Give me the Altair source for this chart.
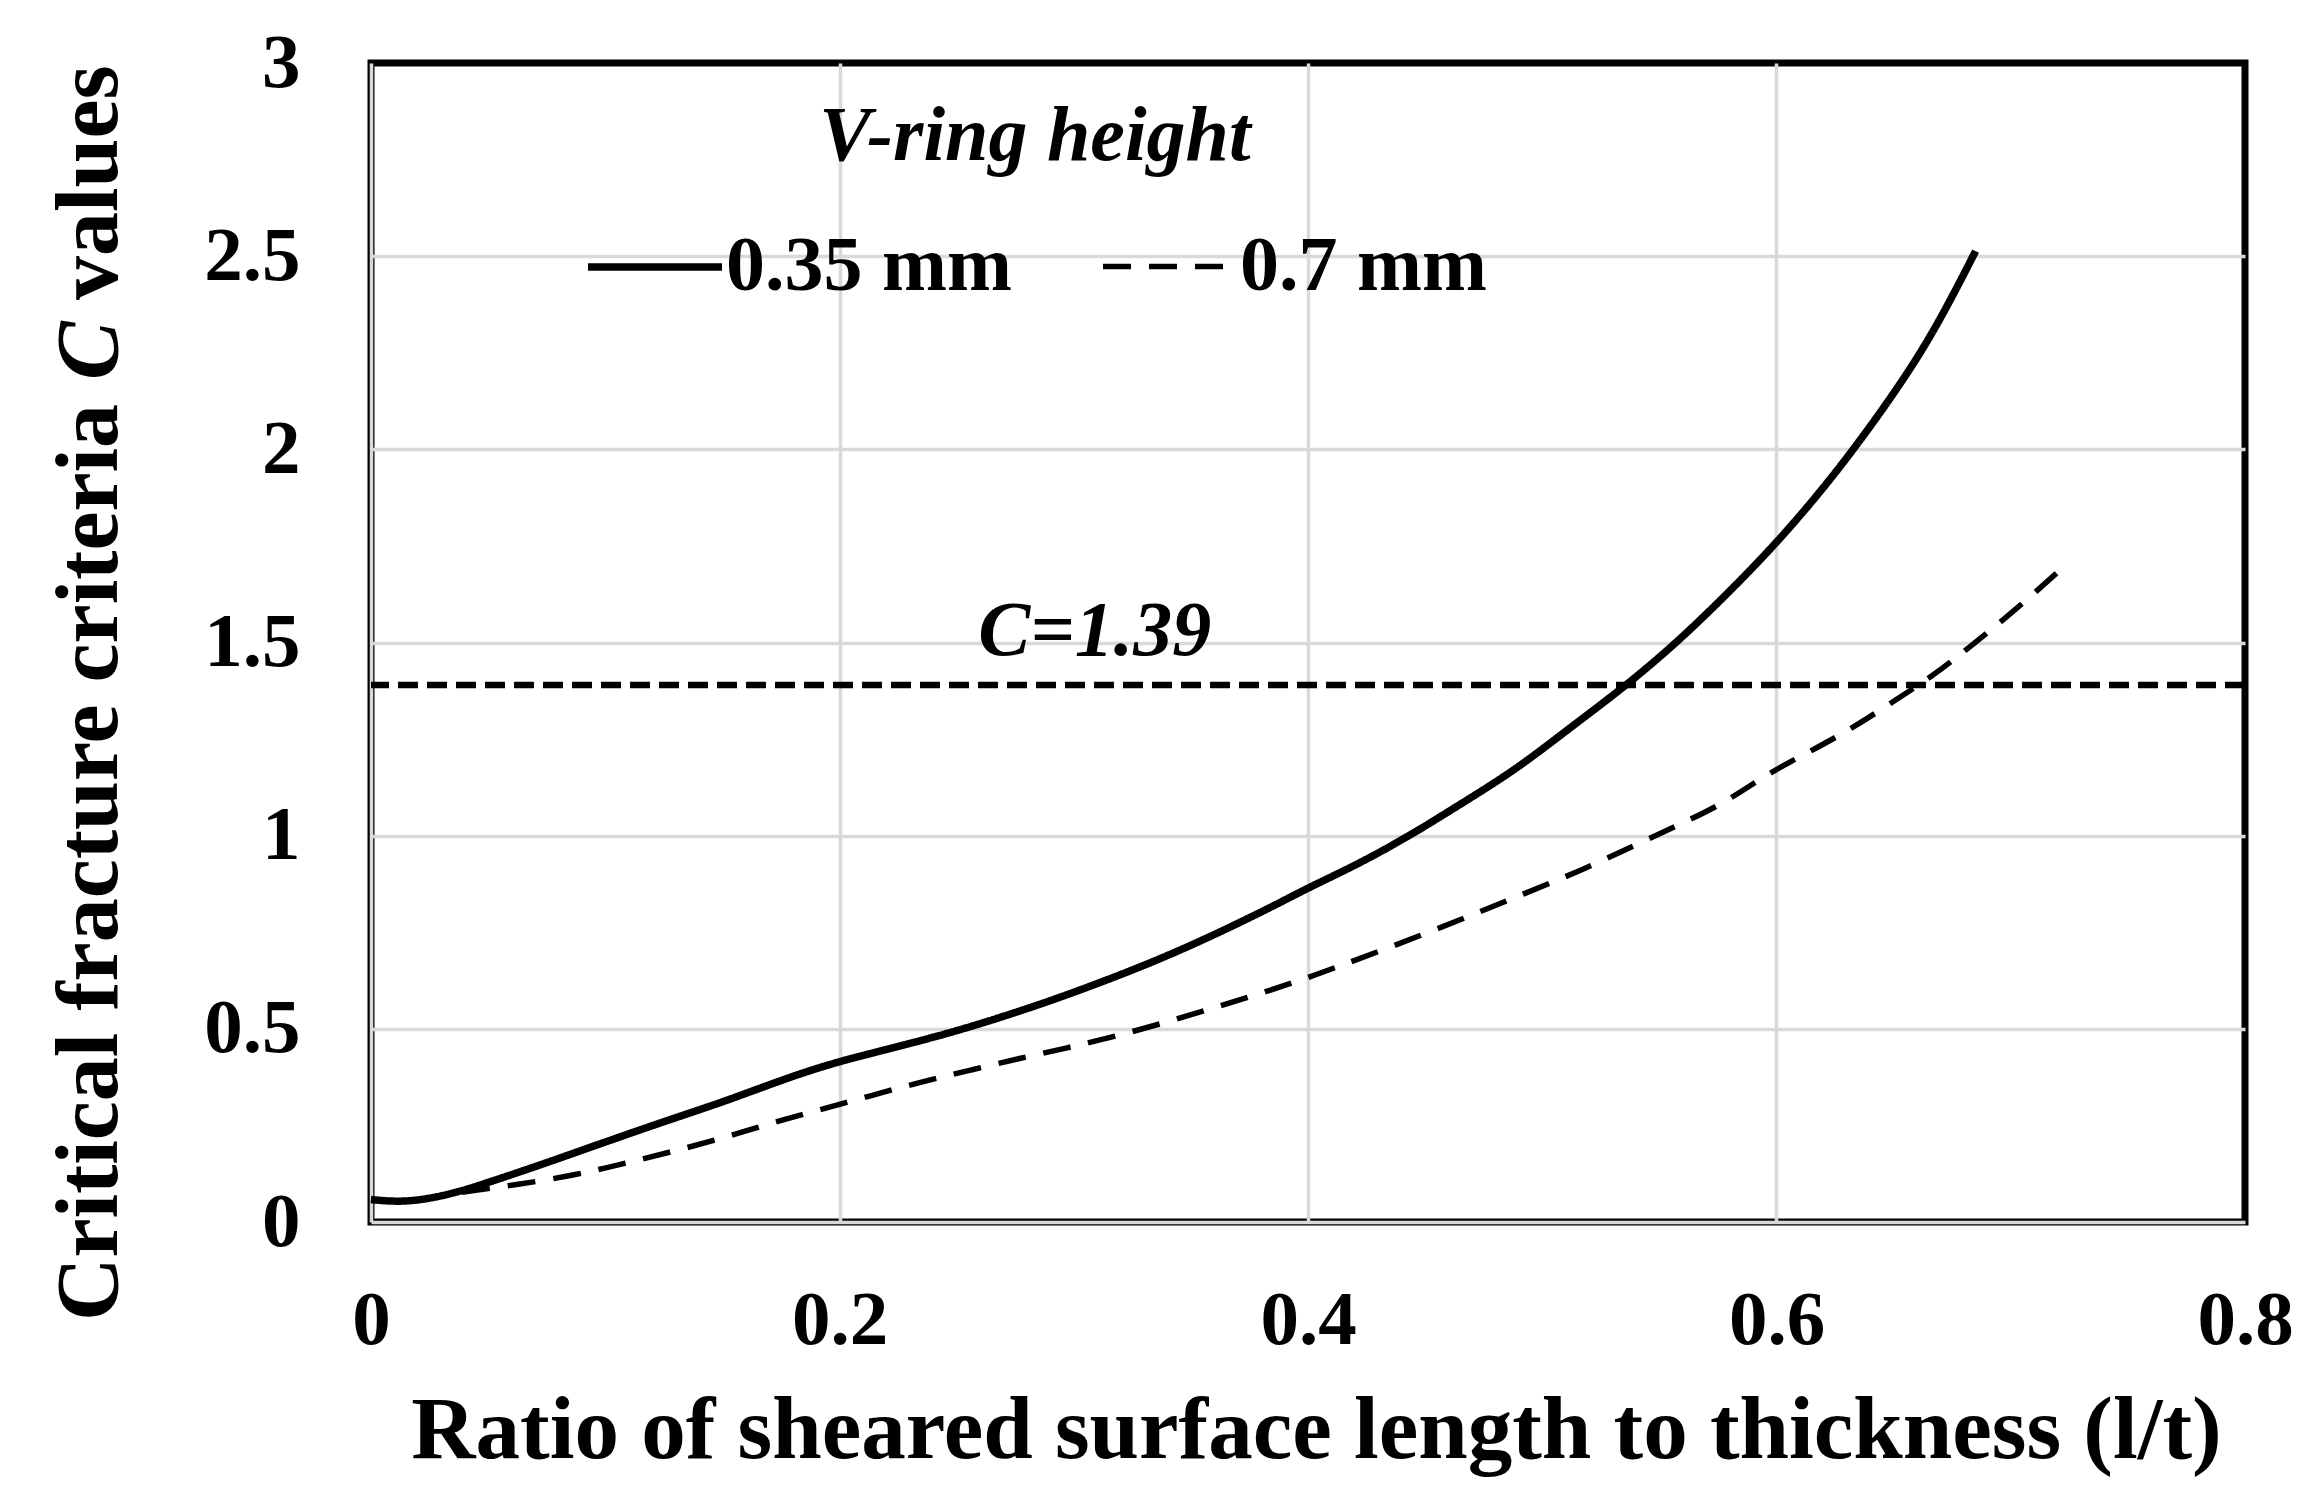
import altair as alt
import pandas as pd

# ---------------- data ----------------
series_names = ["0.35 mm", "0.7 mm"]

x_035 = [0, 0.015, 0.033, 0.047, 0.073, 0.099, 0.125, 0.151, 0.175, 0.2,
         0.243, 0.282, 0.308, 0.334, 0.36, 0.386, 0.4, 0.42, 0.443, 0.466,
         0.489, 0.512, 0.536, 0.559, 0.582, 0.6, 0.617, 0.633, 0.652, 0.668, 0.685]
y_035 = [0.058, 0.05, 0.07, 0.096, 0.149, 0.205, 0.26, 0.312, 0.367, 0.418,
         0.48, 0.555, 0.612, 0.673, 0.743, 0.82, 0.865, 0.922, 0.998, 1.085,
         1.172, 1.28, 1.389, 1.508, 1.644, 1.758, 1.877, 2.0, 2.16, 2.312, 2.513]

x_07 = [0, 0.015, 0.033, 0.041, 0.062, 0.088, 0.109, 0.13, 0.151, 0.172, 0.193,
        0.214, 0.235, 0.256, 0.277, 0.297, 0.318, 0.339, 0.36, 0.381, 0.402,
        0.45, 0.496, 0.517, 0.54, 0.559, 0.578, 0.596, 0.615, 0.633, 0.652,
        0.666, 0.682, 0.701, 0.723]
y_07 = [0.058, 0.05, 0.07, 0.08, 0.096, 0.122, 0.153, 0.184, 0.219, 0.258, 0.293,
        0.328, 0.363, 0.393, 0.424, 0.45, 0.481, 0.516, 0.555, 0.594, 0.636,
        0.745, 0.859, 0.911, 0.976, 1.03, 1.085, 1.16, 1.22, 1.28, 1.356,
        1.41, 1.486, 1.579, 1.698]

c_threshold = 1.39
c_label = "C=1.39"
c_label_x = 0.309

x_ticks = [0, 0.2, 0.4, 0.6, 0.8]
y_ticks = [0, 0.5, 1, 1.5, 2, 2.5, 3]

x_title = "Ratio of sheared surface length to thickness (l/t)"
y_title_parts = ["Critical fracture criteria", "C", "values"]
legend_title = "V-ring height"

# ---------------- tables ----------------
df = pd.DataFrame({
    "series": [series_names[0]] * len(x_035) + [series_names[1]] * len(x_07),
    "x": x_035 + x_07,
    "y": y_035 + y_07,
})
rule_df = pd.DataFrame({"y": [c_threshold]})
label_df = pd.DataFrame({"x": [c_label_x], "y": [c_threshold], "text": [c_label]})
one = pd.DataFrame({"a": [0]})

FONT = "Liberation Serif"
W, H = 1874, 1159

xscale = alt.Scale(domain=[0, 0.8], nice=False)
yscale = alt.Scale(domain=[0, 3], nice=False)

lines = alt.Chart(df).mark_line(interpolate="basis", color="black").encode(
    x=alt.X("x:Q", scale=xscale, title=x_title,
            axis=alt.Axis(values=x_ticks, format="~g", title=x_title,
                          labelBaseline="alphabetic", labelPadding=121,
                          titleY=235, titleX=945, titleBaseline="alphabetic",
                          titleFontSize=89,
                          gridColor={"condition": {"test": "datum.value >= 0.8", "value": "transparent"},
                                     "value": "#d9d9d9"})),
    y=alt.Y("y:Q", scale=yscale, title=None,
            axis=alt.Axis(values=y_ticks, format="~g", title=None, labelPadding=71,
                          gridColor={"condition": {"test": "datum.value >= 3", "value": "transparent"},
                                     "value": "#d9d9d9"})),
    strokeDash=alt.StrokeDash(
        "series:N",
        scale=alt.Scale(domain=series_names, range=[[1, 0], [28, 18]]),
        legend=alt.Legend(
            title=legend_title, orient="none", legendX=213, legendY=35,
            direction="horizontal", symbolType="stroke", symbolSize=134 * 134,
            symbolStrokeWidth=7, symbolStrokeColor="black",
            labelFont=FONT, labelFontSize=78, labelFontWeight="bold",
            labelColor="black", labelOffset=0, columnPadding=80, labelLimit=0,
            titleFont=FONT, titleFontSize=78, titleFontWeight="bold",
            titleFontStyle="italic", titleColor="black", titleAnchor="middle",
            titlePadding=20, titleLimit=0,
        ),
    ),
    strokeWidth=alt.StrokeWidth(
        "series:N", scale=alt.Scale(domain=series_names, range=[7.5, 5.5]), legend=None
    ),
)

rule = alt.Chart(rule_df).mark_rule(color="black", strokeWidth=6.5, strokeDash=[20, 9]).encode(
    y=alt.Y("y:Q", scale=yscale, title=None)
)

label = alt.Chart(label_df).mark_text(
    font=FONT, fontSize=78, fontWeight="bold", fontStyle="italic",
    baseline="alphabetic", align="center", dy=-30, color="black"
).encode(
    x=alt.X("x:Q", scale=xscale, title=x_title),
    y=alt.Y("y:Q", scale=yscale, title=None),
    text="text:N",
)

# y-axis title built from three pieces so that "C" can be italic
YT_X = -254
yt1 = alt.Chart(one).mark_text(
    text=y_title_parts[0], angle=270, align="left", baseline="alphabetic",
    font=FONT, fontSize=88, fontWeight="bold", color="black"
).encode(x=alt.value(YT_X), y=alt.value(1258))
yt2 = alt.Chart(one).mark_text(
    text=y_title_parts[1], angle=270, align="left", baseline="alphabetic",
    font=FONT, fontSize=88, fontWeight="bold", fontStyle="italic", color="black"
).encode(x=alt.value(YT_X), y=alt.value(317))
yt3 = alt.Chart(one).mark_text(
    text=y_title_parts[2], angle=270, align="left", baseline="alphabetic",
    font=FONT, fontSize=88, fontWeight="bold", color="black"
).encode(x=alt.value(YT_X), y=alt.value(237))

chart = alt.layer(lines, rule, label, yt1, yt2, yt3).properties(
    width=W, height=H,
    padding={"left": 363, "top": 55, "right": 62, "bottom": 270},
    autosize=alt.AutoSizeParams(type="none"),
    background="white",
).configure_view(
    stroke="black", strokeWidth=7
).configure_axis(
    grid=True, gridWidth=3.5, domain=False, ticks=False,
    labelFont=FONT, labelFontSize=77, labelFontWeight="bold", labelColor="black",
    labelFlush=False, labelOverlap=False,
    titleFont=FONT, titleFontWeight="bold", titleColor="black",
)

chart.save("out.html", embed_options={"renderer": "svg", "actions": False})
